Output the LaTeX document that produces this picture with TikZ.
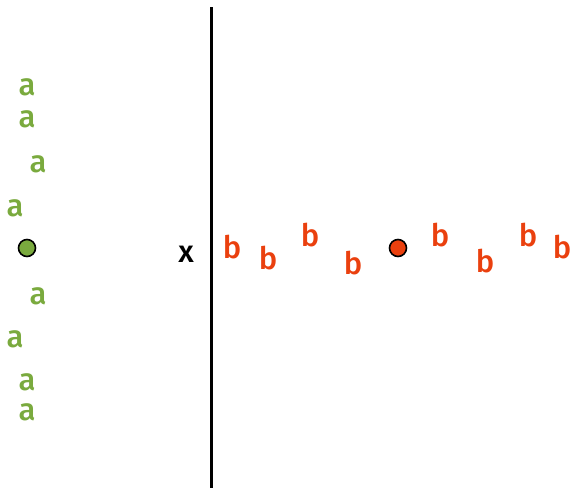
\documentclass[tikz,border=0pt]{standalone}
\usepackage{fontspec}
\setmainfont{Fira Sans}[BoldFont={Fira Sans Medium}]
\definecolor{agreen}{RGB}{122,170,62}
\definecolor{bred}{RGB}{234,64,14}
\begin{document}
\begin{tikzpicture}[x=1pt,y=-1pt,
    lettera/.style={text=agreen, font=\fontsize{31}{31}\selectfont\bfseries, inner sep=0pt, yshift=-3pt},
    letterb/.style={text=bred, font=\fontsize{31}{31}\selectfont\bfseries, inner sep=0pt, yshift=-1pt},
    centre/.style={circle, draw=black, line width=1.6pt, minimum size=17pt, inner sep=0pt}]
    \useasboundingbox (0,0) rectangle (571,488);

    % Граница
    \coordinate (top) at (211,7);
    \coordinate (bottom) at (211,488);
    \draw[line width=3pt] (top) -- (bottom);

    % Центры
    \node[centre, fill=agreen] (ca) at (27,248) {};
    \node[centre, fill=bred] (cb) at (398,248) {};

    % Точки класса a
    \foreach \x/\y [count=\i] in {27/84, 27/116, 38/161, 15/205, 38/293, 15/336, 27/379, 27/409}
        \node[lettera] (a\i) at (\x,\y) {a};

    % Точки класса b
    \foreach \x/\y [count=\i] in {232/246, 268/257, 310/234, 353/262, 440/234, 485/260, 528/234, 562/246}
        \node[letterb] (b\i) at (\x,\y) {b};

    % Новая точка
    \node[font=\fontsize{31}{31}\selectfont\bfseries, inner sep=0pt, yshift=-3pt] (x) at (186,251) {x};

\end{tikzpicture}
\end{document}
